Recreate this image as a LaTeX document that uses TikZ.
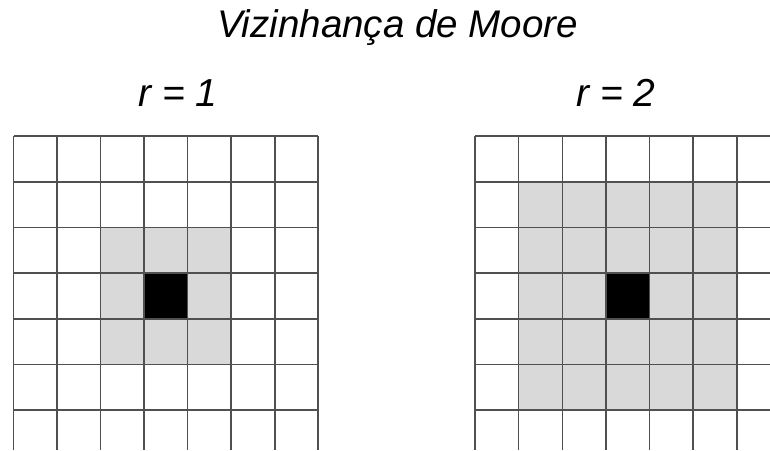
\documentclass[tikz,border=0pt]{standalone}
\usepackage{fontspec}
\setmainfont{Liberation Sans}
\definecolor{cellgray}{RGB}{217,217,217}
\definecolor{gridline}{RGB}{80,80,80}
\tikzset{
  gridstroke/.style={draw=gridline, line width=1.6pt},
  titletext/.style={font=\fontsize{38.5}{44}\selectfont\itshape, anchor=base, inner sep=0pt},
  radtext/.style={font=\fontsize{39}{44}\selectfont\itshape, anchor=base, inner sep=0pt}
}
\begin{document}
\begin{tikzpicture}[x=1pt,y=-1pt]
\useasboundingbox (0,0) rectangle (770,450);
\fill[white] (0,0) rectangle (770,450);
% texts
\node[titletext] (title) at (397.5,37) {Vizinhança de Moore};
\node[radtext] (r1) at (178,106.7) {r = 1};
\node[radtext] (r2) at (616,106.7) {r = 2};
% left grid: r = 1
\def\lx{13.5}\def\dx{43.54}\def\ty{136}\def\dy{45.7}
\fill[cellgray] (\lx+2*\dx,\ty+2*\dy) rectangle (\lx+5*\dx,\ty+5*\dy);
\fill[black] (\lx+3*\dx,\ty+3*\dy) rectangle (\lx+4*\dx,\ty+4*\dy);
\foreach \i in {0,...,7} {
  \draw[gridstroke] (\lx+\i*\dx,\ty) -- (\lx+\i*\dx,450);
}
\foreach \j in {0,...,6} {
  \draw[gridstroke] (\lx,\ty+\j*\dy) -- (\lx+7*\dx,\ty+\j*\dy);
}
% right grid: r = 2
\def\rx{475}\def\ex{43.65}
\fill[cellgray] (\rx+1*\ex,\ty+1*\dy) rectangle (\rx+6*\ex,\ty+6*\dy);
\fill[black] (\rx+3*\ex,\ty+3*\dy) rectangle (\rx+4*\ex,\ty+4*\dy);
\foreach \i in {0,...,6} {
  \draw[gridstroke] (\rx+\i*\ex,\ty) -- (\rx+\i*\ex,450);
}
\foreach \j in {0,...,6} {
  \draw[gridstroke] (\rx,\ty+\j*\dy) -- (770,\ty+\j*\dy);
}
\end{tikzpicture}
\end{document}
